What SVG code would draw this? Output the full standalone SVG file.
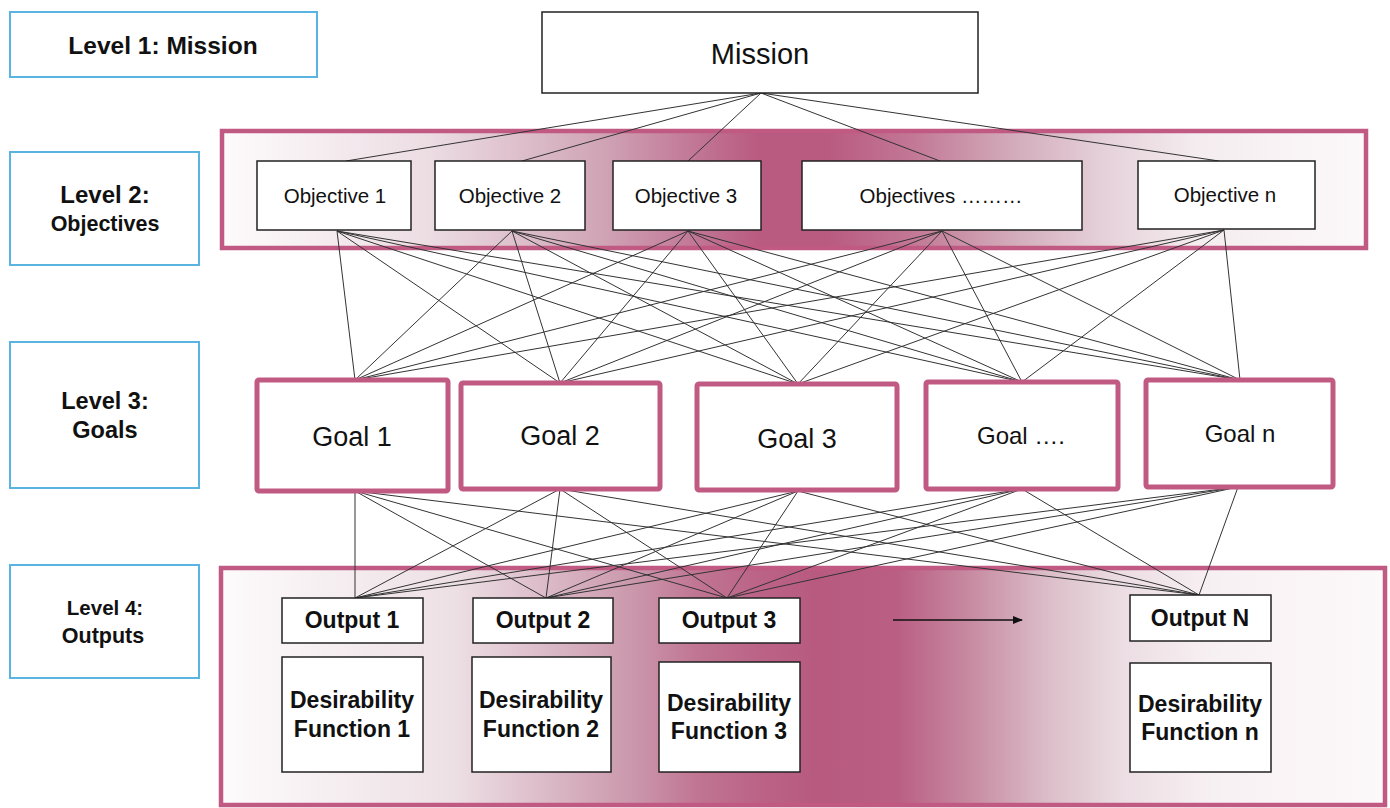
<svg xmlns="http://www.w3.org/2000/svg" width="1390" height="808" viewBox="0 0 1390 808">
<style>
.lvl{fill:#fff;stroke:#5ab4e2;stroke-width:2}
.lt{font-family:"Liberation Sans",Arial,sans-serif;font-weight:bold;fill:#111;text-anchor:middle}
.obj{fill:#fff;stroke:#222;stroke-width:1.5}
.ot{font-family:"Liberation Sans",Arial,sans-serif;font-size:20.5px;fill:#111;text-anchor:middle}
.goal{fill:#fff;stroke:#c05a82;stroke-width:5}
.gt{font-family:"Liberation Sans",Arial,sans-serif;font-size:27px;fill:#111;text-anchor:middle}
.gt2{font-family:"Liberation Sans",Arial,sans-serif;font-size:24px;fill:#111;text-anchor:middle}
.out{fill:#fff;stroke:#222;stroke-width:1.5}
.pt{font-family:"Liberation Sans",Arial,sans-serif;font-weight:bold;font-size:23px;fill:#111;text-anchor:middle}
.dt{font-family:"Liberation Sans",Arial,sans-serif;font-weight:bold;font-size:23px;fill:#111;text-anchor:middle}
.band{stroke:#c05a82;stroke-width:4.5}
#connectors line{stroke:#333;stroke-width:1}
</style>
<defs>
<linearGradient id="gObj" gradientUnits="userSpaceOnUse" x1="222" y1="0" x2="1367" y2="0">
<stop offset="0" stop-color="#fdfbfc"/>
<stop offset="0.06" stop-color="#f8f1f4"/>
<stop offset="0.18" stop-color="#ecdde3"/>
<stop offset="0.33" stop-color="#d0a5b6"/>
<stop offset="0.42" stop-color="#c07393"/>
<stop offset="0.47" stop-color="#b95a80"/>
<stop offset="0.53" stop-color="#b95b81"/>
<stop offset="0.6" stop-color="#c27694"/>
<stop offset="0.69" stop-color="#d2abba"/>
<stop offset="0.77" stop-color="#e5d1d9"/>
<stop offset="0.85" stop-color="#f4ecef"/>
<stop offset="1" stop-color="#fcf9fa"/>
</linearGradient>
<linearGradient id="gOut" gradientUnits="userSpaceOnUse" x1="221" y1="0" x2="1385" y2="0">
<stop offset="0" stop-color="#fdfbfc"/>
<stop offset="0.05" stop-color="#f9f4f6"/>
<stop offset="0.2" stop-color="#ede0e5"/>
<stop offset="0.36" stop-color="#c994a9"/>
<stop offset="0.41" stop-color="#c07592"/>
<stop offset="0.46" stop-color="#bb6487"/>
<stop offset="0.51" stop-color="#b85a80"/>
<stop offset="0.58" stop-color="#ba5e83"/>
<stop offset="0.64" stop-color="#c6889f"/>
<stop offset="0.71" stop-color="#dbbdc8"/>
<stop offset="0.77" stop-color="#ebdce2"/>
<stop offset="0.85" stop-color="#f7f0f3"/>
<stop offset="1" stop-color="#fcf9fa"/>
</linearGradient>
<marker id="arr" markerWidth="10" markerHeight="8" refX="9" refY="4" orient="auto" markerUnits="userSpaceOnUse">
<path d="M0,0 L10,4 L0,8 Z" fill="#111"/>
</marker>
</defs>
<rect width="1390" height="808" fill="#fff"/>

<g id="level1"><rect class="lvl" x="10" y="12" width="307" height="65"/><text class="lt" x="163" y="54" font-size="24.5">Level 1: Mission</text></g>
<g id="level2"><rect class="lvl" x="10" y="152" width="189" height="113"/><text class="lt" x="105" y="203" font-size="24">Level 2:</text><text class="lt" x="105" y="231" font-size="21.5">Objectives</text></g>
<g id="level3"><rect class="lvl" x="10" y="342" width="189" height="146"/><text class="lt" x="105" y="409" font-size="23.5">Level 3:</text><text class="lt" x="105" y="438" font-size="23.5">Goals</text></g>
<g id="level4"><rect class="lvl" x="10" y="565" width="189" height="113"/><text class="lt" x="105" y="615" font-size="20.5">Level 4:</text><text class="lt" x="103" y="643" font-size="21.5">Outputs</text></g>

<g id="objectives-band"><rect class="band" x="222" y="131" width="1144" height="117" fill="url(#gObj)"/></g>
<g id="outputs-band"><rect class="band" x="221" y="568" width="1164" height="237" fill="url(#gOut)"/></g>

<g id="connectors">
<line x1="761" y1="93" x2="346" y2="161"/>
<line x1="761" y1="93" x2="522" y2="161"/>
<line x1="761" y1="93" x2="688" y2="161"/>
<line x1="761" y1="93" x2="940" y2="161"/>
<line x1="761" y1="93" x2="1219" y2="161"/>

<line x1="337" y1="231" x2="355" y2="380"/>
<line x1="337" y1="231" x2="560" y2="383"/>
<line x1="337" y1="231" x2="798" y2="384"/>
<line x1="337" y1="231" x2="1022" y2="382"/>
<line x1="337" y1="231" x2="1240" y2="380"/>
<line x1="512" y1="231" x2="355" y2="380"/>
<line x1="512" y1="231" x2="560" y2="383"/>
<line x1="512" y1="231" x2="798" y2="384"/>
<line x1="512" y1="231" x2="1022" y2="382"/>
<line x1="512" y1="231" x2="1240" y2="380"/>
<line x1="688" y1="231" x2="355" y2="380"/>
<line x1="688" y1="231" x2="560" y2="383"/>
<line x1="688" y1="231" x2="798" y2="384"/>
<line x1="688" y1="231" x2="1022" y2="382"/>
<line x1="688" y1="231" x2="1240" y2="380"/>
<line x1="942" y1="231" x2="355" y2="380"/>
<line x1="942" y1="231" x2="560" y2="383"/>
<line x1="942" y1="231" x2="798" y2="384"/>
<line x1="942" y1="231" x2="1022" y2="382"/>
<line x1="942" y1="231" x2="1240" y2="380"/>
<line x1="1224" y1="230" x2="355" y2="380"/>
<line x1="1224" y1="230" x2="560" y2="383"/>
<line x1="1224" y1="230" x2="798" y2="384"/>
<line x1="1224" y1="230" x2="1022" y2="382"/>
<line x1="1224" y1="230" x2="1240" y2="380"/>

<line x1="355" y1="491" x2="355" y2="598"/>
<line x1="355" y1="491" x2="546" y2="598"/>
<line x1="355" y1="491" x2="727" y2="598"/>
<line x1="355" y1="491" x2="1199" y2="595"/>
<line x1="560" y1="489" x2="355" y2="598"/>
<line x1="560" y1="489" x2="546" y2="598"/>
<line x1="560" y1="489" x2="727" y2="598"/>
<line x1="560" y1="489" x2="1199" y2="595"/>
<line x1="798" y1="491" x2="355" y2="598"/>
<line x1="798" y1="491" x2="546" y2="598"/>
<line x1="798" y1="491" x2="727" y2="598"/>
<line x1="798" y1="491" x2="1199" y2="595"/>
<line x1="1022" y1="489" x2="355" y2="598"/>
<line x1="1022" y1="489" x2="546" y2="598"/>
<line x1="1022" y1="489" x2="727" y2="598"/>
<line x1="1022" y1="489" x2="1199" y2="595"/>
<line x1="1238" y1="487" x2="355" y2="598"/>
<line x1="1238" y1="487" x2="546" y2="598"/>
<line x1="1238" y1="487" x2="727" y2="598"/>
<line x1="1238" y1="487" x2="1199" y2="595"/>

<line x1="893" y1="620" x2="1022" y2="620" style="stroke:#111;stroke-width:1.3" marker-end="url(#arr)"/>
</g>

<g id="mission"><rect class="obj" x="542" y="12" width="436" height="81"/><text x="760" y="64" font-family="Liberation Sans, Arial, sans-serif" font-size="29" fill="#111" text-anchor="middle">Mission</text></g>

<g id="objective1"><rect class="obj" x="257" y="161" width="154" height="69"/><text class="ot" x="335" y="203">Objective 1</text></g>
<g id="objective2"><rect class="obj" x="435" y="161" width="150" height="69"/><text class="ot" x="510" y="203">Objective 2</text></g>
<g id="objective3"><rect class="obj" x="613" y="161" width="148" height="69"/><text class="ot" x="686" y="203">Objective 3</text></g>
<g id="objective4"><rect class="obj" x="802" y="161" width="280" height="69"/><text class="ot" x="941" y="203">Objectives ………</text></g>
<g id="objectiven"><rect class="obj" x="1138" y="161" width="177" height="68"/><text class="ot" x="1225" y="202">Objective n</text></g>

<g id="goal1"><rect class="goal" x="257" y="380" width="191" height="111" rx="2"/><text class="gt" x="352" y="446">Goal 1</text></g>
<g id="goal2"><rect class="goal" x="461" y="383" width="199" height="106" rx="2"/><text class="gt" x="560" y="445">Goal 2</text></g>
<g id="goal3"><rect class="goal" x="697" y="384" width="200" height="106" rx="2"/><text class="gt" x="797" y="448">Goal 3</text></g>
<g id="goal4"><rect class="goal" x="926" y="382" width="192" height="107" rx="2"/><text class="gt2" x="1021" y="444">Goal ….</text></g>
<g id="goaln"><rect class="goal" x="1146" y="380" width="187" height="107" rx="2"/><text class="gt2" x="1240" y="442">Goal n</text></g>

<g id="output1"><rect class="out" x="282" y="598" width="141" height="45"/><text class="pt" x="352" y="628">Output 1</text></g>
<g id="output2"><rect class="out" x="473" y="598" width="140" height="45"/><text class="pt" x="543" y="628">Output 2</text></g>
<g id="output3"><rect class="out" x="659" y="598" width="141" height="45"/><text class="pt" x="729" y="628">Output 3</text></g>
<g id="outputN"><rect class="out" x="1130" y="595" width="141" height="46"/><text class="pt" x="1200" y="626">Output N</text></g>

<g id="desirability1"><rect class="out" x="282" y="657" width="141" height="115"/><text class="dt" x="352" y="708">Desirability</text><text class="dt" x="352" y="737">Function 1</text></g>
<g id="desirability2"><rect class="out" x="472" y="657" width="139" height="115"/><text class="dt" x="541" y="708">Desirability</text><text class="dt" x="541" y="737">Function 2</text></g>
<g id="desirability3"><rect class="out" x="659" y="662" width="141" height="110"/><text class="dt" x="729" y="711">Desirability</text><text class="dt" x="729" y="739">Function 3</text></g>
<g id="desirabilityn"><rect class="out" x="1130" y="663" width="141" height="109"/><text class="dt" x="1200" y="712">Desirability</text><text class="dt" x="1200" y="740">Function n</text></g>
</svg>
